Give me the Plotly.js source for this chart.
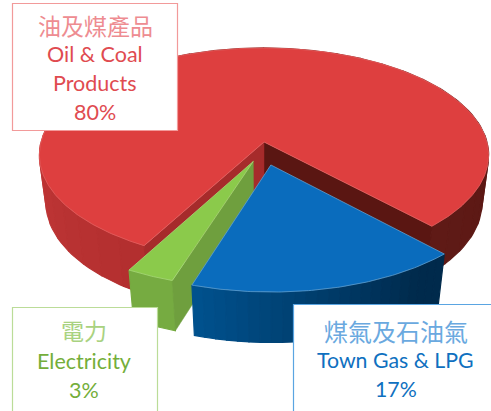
<!DOCTYPE html>
<html><head><meta charset="utf-8">
<script src="https://cdn.plot.ly/plotly-3.0.1.min.js"></script>
<style>html,body{margin:0;padding:0;background:#fff;overflow:hidden}#c{width:491px;height:411px}</style>
</head><body><div id="c"></div>
<script>
const seriesNames = ['Oil & Coal Products', 'Town Gas & LPG', 'Electricity'];
const seriesNamesZh = ['油及煤產品', '煤氣及石油氣', '電力'];
const shares = [80, 17, 3];

// view parameters of the tilted pie
const view = {cx:264, cy:142, ax:223, by:105.5, k:0.122, m:0.03, depth:49, start:-46.7};
const explode = [[0,0],[0.03,-0.212],[-0.047,-0.18]];
const topCol = ['#de3f3f','#0a6cbd','#8bca4b'];
const rimCol = ['#e56060','#5f9fd0','#a6d877'];

function P(X,Y,z){const w=1+view.k*Y+view.m*z;
  return [view.cx+view.ax*X/w, view.cy+(-view.by*Y+view.depth*z)/w];}
function mix(a,b,t){const h=s=>[1,3,5].map(i=>parseInt(s.substr(i,2),16));
  const A=h(a),B=h(b);return 'rgb('+A.map((v,i)=>Math.round(v+(B[i]-v)*t)).join(',')+')';}

const traces=[];
function poly(pts,fill,line,lw){
  traces.push({type:'scatter',mode:'lines',x:pts.map(p=>p[0]).concat(pts[0][0]),y:pts.map(p=>p[1]).concat(pts[0][1]),
    fill:'toself',fillcolor:fill,line:{color:line||fill,width:lw===undefined?1.2:lw},hoverinfo:'skip',showlegend:false});
}
const total=shares.reduce((a,b)=>a+b,0);
const spans=[];
{const a0=view.start; const red=360*shares[0]/total;
 spans[0]=[a0,a0+red];
 const b=360*shares[1]/total; spans[1]=[a0-b,a0];
 const g=360*shares[2]/total; spans[2]=[a0-b-g,a0-b];}

function rimPt(i,deg,z){const r=deg*Math.PI/180,e=explode[i];return P(Math.cos(r)+e[0],Math.sin(r)+e[1],z);}
function arc(i,a,b,z,n){const o=[];for(let j=0;j<=n;j++)o.push(rimPt(i,a+(b-a)*j/n,z));return o;}
function apex(i,z){return P(explode[i][0],explode[i][1],z);}
function wallStrip(i,a,b,col){poly(arc(i,a,b,0,6).concat(arc(i,a,b,1,6).reverse()),col);}
function cutWall(i,deg,col){poly([apex(i,0),rimPt(i,deg,0),rimPt(i,deg,1),apex(i,1)],col,col,0.5);}
function topFace(i){const [a,b]=spans[i];
  poly([apex(i,0)].concat(arc(i,a,b,0,Math.max(24,Math.round((b-a)*1.5)))),topCol[i],rimCol[i],0.8);}

// Oil & Coal
{const [a,b]=spans[0],n=40;
 for(let j=0;j<n;j++){const s=a+(b-a)*j/n,e=a+(b-a)*(j+1)/n,mid=(s+e)/2;
   let c;
   if(mid<30) c=mix('#5f1a16','#5a1713',(mid-a)/(30-a));
   else if(mid<150) c='#8a2522';
   else c=mix('#c93b3b','#b22e2e',(mid-150)/(b-150));
   wallStrip(0,s,e,c);}
 cutWall(0,a,'#5a1612');
 cutWall(0,b,'#a62b2b');
 topFace(0);}
// Electricity
{const [a,b]=spans[2];
 wallStrip(2,a,b,'#76ab41');
 cutWall(2,b,'#6f9f3e');
 topFace(2);}
// Town Gas
{const [a,b]=spans[1],n=24;
 for(let j=0;j<n;j++){const s=a+(b-a)*j/n,e=a+(b-a)*(j+1)/n;
   wallStrip(1,s,e,mix('#00528f','#002a4c',Math.min(1,(j+.5)/n*1.15)));}
 topFace(1);}

const boxes=[
 {x0:12.5,y0:3.5,x1:177.5,y1:130.5,line:'#f29a9a'},
 {x0:293.5,y0:304.5,x1:492,y1:412,line:'#5aa5e2'},
 {x0:12.5,y0:307.5,x1:157.5,y1:412,line:'#bbdc98'}
];
const shapes=boxes.map(b=>({type:'rect',xref:'x',yref:'y',x0:b.x0,y0:b.y0,x1:b.x1,y1:b.y1,fillcolor:'#fff',line:{color:b.line,width:1.2},layer:'above'}));

const EN='Lato, "Open Sans", sans-serif', ZH='"Noto Sans CJK TC", sans-serif';
function label(x,y,t,size,col,fam){return {xref:'x',yref:'y',x,y,text:t,showarrow:false,xanchor:'center',yanchor:'middle',font:{size,color:col,family:fam}};}
const annotations=[
 label(95,25,seriesNamesZh[0],23,'#ee8c91',ZH),
 label(95,54,'Oil & Coal',21.5,'#e04b50',EN),
 label(95,83,'Products',21.5,'#e04b50',EN),
 label(95,112,shares[0]+'%',21.5,'#e04b50',EN),
 label(396,330,seriesNamesZh[1],24,'#6aa9df',ZH),
 label(395,360,'Town Gas & LPG',21.3,'#0f70c0',EN),
 label(396,389,shares[1]+'%',21.3,'#0f70c0',EN),
 label(84,330,seriesNamesZh[2],23,'#a9d280',ZH),
 label(84,361,'Electricity',21.5,'#74ae3a',EN),
 label(84,390,shares[2]+'%',21.5,'#74ae3a',EN)
];
Plotly.newPlot('c',traces,{width:491,height:411,margin:{l:0,r:0,t:0,b:0},paper_bgcolor:'#fff',plot_bgcolor:'#fff',showlegend:false,
 xaxis:{range:[0,491],visible:false,fixedrange:true},yaxis:{range:[411,0],visible:false,fixedrange:true},shapes,annotations},{displayModeBar:false,staticPlot:true});
</script></body></html>
